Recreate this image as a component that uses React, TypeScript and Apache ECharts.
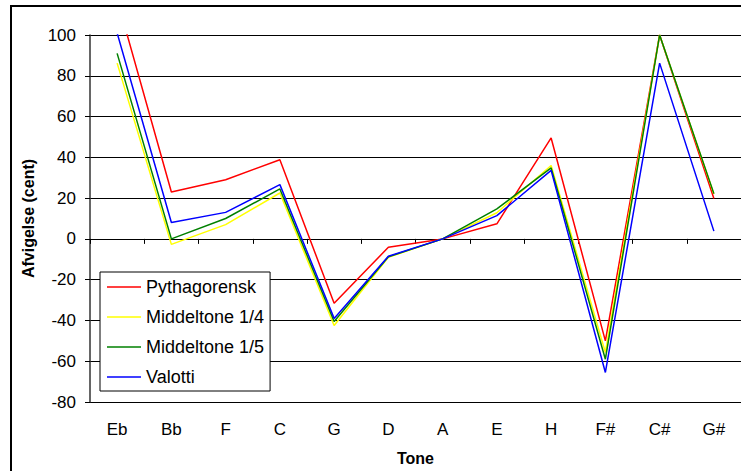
import React, { useEffect, useRef } from "react";
import * as echarts from "echarts";

const categories = ["Eb", "Bb", "F", "C", "G", "D", "A", "E", "H", "F#", "C#", "G#"];
const pythagorensk = [117.6, 23, 29, 38.8, -31.6, -4.1, 0, 7.4, 49.5, -50, 100, 19.8];
const middeltone14 = [86.2, -2.7, 7, 22.5, -42.5, -9, 0, 12.8, 36, -55.7, 100, 22];
const middeltone15 = [91, 0, 10, 24.5, -40.5, -8.8, 0, 14.7, 34.8, -59, 100, 22.2];
const valotti = [101, 8, 13, 26.6, -39, -8.5, 0, 11.4, 33.6, -65.5, 86.2, 3.8];

const seriesNames = ["Pythagorensk", "Middeltone 1/4", "Middeltone 1/5", "Valotti"];
const seriesColors = ["#ff0000", "#ffff00", "#008000", "#0000ff"];
const yTicks = { min: -80, max: 100, interval: 20 };

const FONT = "'Liberation Sans', Arial, sans-serif";

export default function App() {
  const ref = useRef<HTMLDivElement>(null);
  useEffect(() => {
    if (!ref.current) return;
    const chart = echarts.init(ref.current, null, { renderer: "svg" });
    const data = [pythagorensk, middeltone14, middeltone15, valotti];
    chart.setOption({
      animation: false,
      backgroundColor: "#ffffff",
      textStyle: { fontFamily: FONT },
      grid: { left: 90, top: 35, width: 659, height: 368 },
      legend: {
        orient: "vertical",
        left: 100,
        top: 272,
        padding: [6, 6, 5, 7],
        itemWidth: 34,
        itemHeight: 1.5,
        itemGap: 12,
        icon: "rect",
        backgroundColor: "#ffffff",
        borderColor: "#000",
        borderWidth: 1,
        textStyle: { fontSize: 18, color: "#000", fontFamily: FONT },
        data: seriesNames,
      },
      xAxis: {
        type: "category",
        data: categories,
        boundaryGap: true,
        name: "Tone",
        nameLocation: "middle",
        nameGap: 48,
        nameTextStyle: { fontSize: 16, fontWeight: "bold", color: "#000", fontFamily: FONT },
        axisLine: { lineStyle: { color: "#000", width: 1 } },
        axisTick: { show: true, length: 5, lineStyle: { color: "#000" } },
        axisLabel: { fontSize: 17, color: "#000", margin: 19, fontFamily: FONT },
        splitLine: { show: false },
      },
      yAxis: {
        type: "value",
        min: yTicks.min,
        max: yTicks.max,
        interval: yTicks.interval,
        name: "Afvigelse (cent)",
        nameLocation: "middle",
        nameGap: 54,
        nameTextStyle: { fontSize: 16, fontWeight: "bold", color: "#000", fontFamily: FONT },
        axisLine: { show: true, lineStyle: { color: "#333", width: 1.5 } },
        axisTick: { show: true, length: 5, lineStyle: { color: "#000" } },
        axisLabel: { fontSize: 17, color: "#000", margin: 14, fontFamily: FONT },
        splitLine: { show: true, lineStyle: { color: "#000", width: 1 } },
      },
      series: seriesNames.map((name, i) => ({
        name,
        type: "line",
        data: data[i],
        symbol: "none",
        clip: true,
        color: seriesColors[i],
        itemStyle: { color: seriesColors[i] },
        lineStyle: { color: seriesColors[i], width: 1.5 },
      })),
    });
    return () => chart.dispose();
  }, []);
  return (
    <div
      style={{
        position: "absolute",
        left: 0,
        top: 0,
        width: 741,
        height: 471,
        overflow: "hidden",
      }}
    >
      <div
        ref={ref}
        style={{ position: "absolute", left: 0, top: 0, width: 741, height: 471 }}
      />
      <div
        style={{
          position: "absolute",
          left: 10,
          top: 5,
          width: 731,
          height: 466,
          boxSizing: "border-box",
          borderLeft: "2px solid #000",
          borderTop: "2px solid #000",
          pointerEvents: "none",
        }}
      />
    </div>
  );
}
